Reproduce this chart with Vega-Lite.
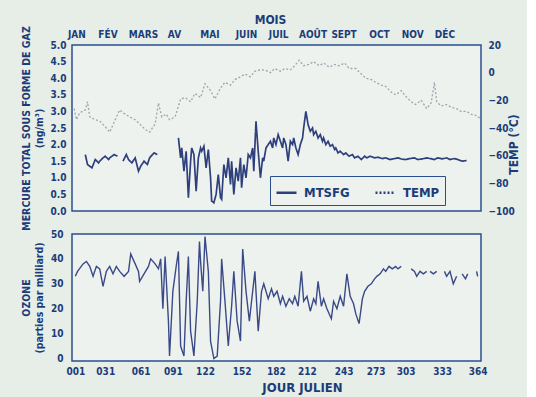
{
  "$schema": "https://vega.github.io/schema/vega-lite/v6.json",
  "background": "#e7eee8",
  "padding": {"left": 20, "top": 12, "right": 6, "bottom": 2},
  "bounds": "flush",
  "spacing": 23,
  "config": {
    "font": "Liberation Sans Narrow, DejaVu Sans Condensed, Roboto, sans-serif",
    "view": {"fill": "#eef2ef", "stroke": "#2a4f8f", "strokeWidth": 1.5},
    "axis": {"domain": false, "ticks": false, "grid": false, "labelColor": "#1b3c78", "titleColor": "#1b3c78", "labelFontWeight": "bold", "titleFontWeight": "bold", "labelFontSize": 10, "titleFontSize": 11, "labelOverlap": false, "labelFlush": false}
  },
  "datasets": {
    "hg": [
      {"day":10,"hg":1.7,"seg":1},{"day":12,"hg":1.4,"seg":1},{"day":16,"hg":1.3,"seg":1},{"day":19,"hg":1.55,"seg":1},{"day":22,"hg":1.45,"seg":1},{"day":23,"hg":1.5,"seg":1},{"day":26,"hg":1.6,"seg":1},{"day":28,"hg":1.65,"seg":1},{"day":31,"hg":1.55,"seg":1},{"day":32,"hg":1.6,"seg":1},{"day":36,"hg":1.7,"seg":1},{"day":39,"hg":1.65,"seg":1},
      {"day":44,"hg":1.5,"seg":2},{"day":47,"hg":1.7,"seg":2},{"day":49,"hg":1.55,"seg":2},{"day":52,"hg":1.45,"seg":2},{"day":55,"hg":1.6,"seg":2},{"day":58,"hg":1.2,"seg":2},{"day":60,"hg":1.35,"seg":2},{"day":63,"hg":1.5,"seg":2},{"day":66,"hg":1.4,"seg":2},{"day":68,"hg":1.6,"seg":2},{"day":72,"hg":1.75,"seg":2},{"day":75,"hg":1.7,"seg":2},
      {"day":94,"hg":2.2,"seg":3},{"day":96,"hg":1.6,"seg":3},{"day":97,"hg":1.9,"seg":3},{"day":99,"hg":1.2,"seg":3},{"day":101,"hg":1.8,"seg":3},{"day":103,"hg":0.4,"seg":3},{"day":105,"hg":1.5,"seg":3},{"day":106,"hg":1.9,"seg":3},{"day":108,"hg":1.7,"seg":3},{"day":110,"hg":0.6,"seg":3},{"day":112,"hg":1.6,"seg":3},{"day":114,"hg":1.9,"seg":3},{"day":115,"hg":1.8,"seg":3},{"day":117,"hg":1.95,"seg":3},{"day":119,"hg":1.3,"seg":3},{"day":121,"hg":1.85,"seg":3},{"day":123,"hg":1.0,"seg":3},{"day":124,"hg":0.3,"seg":3},{"day":126,"hg":0.25,"seg":3},{"day":128,"hg":0.5,"seg":3},{"day":130,"hg":1.1,"seg":3},{"day":132,"hg":0.4,"seg":3},{"day":133,"hg":0.35,"seg":3},{"day":135,"hg":1.4,"seg":3},{"day":137,"hg":1.0,"seg":3},{"day":139,"hg":1.6,"seg":3},{"day":141,"hg":0.8,"seg":3},{"day":142,"hg":1.5,"seg":3},{"day":144,"hg":0.5,"seg":3},{"day":146,"hg":1.3,"seg":3},{"day":148,"hg":0.9,"seg":3},{"day":150,"hg":1.6,"seg":3},{"day":151,"hg":0.7,"seg":3},{"day":153,"hg":1.4,"seg":3},{"day":155,"hg":1.0,"seg":3},{"day":157,"hg":1.7,"seg":3},{"day":159,"hg":1.6,"seg":3},{"day":161,"hg":1.9,"seg":3},{"day":162,"hg":1.2,"seg":3},{"day":164,"hg":2.7,"seg":3},{"day":166,"hg":1.8,"seg":3},{"day":168,"hg":1.0,"seg":3},{"day":170,"hg":1.6,"seg":3},{"day":171,"hg":1.5,"seg":3},{"day":173,"hg":1.9,"seg":3},{"day":175,"hg":2.0,"seg":3},{"day":177,"hg":2.1,"seg":3},{"day":179,"hg":1.9,"seg":3},{"day":180,"hg":2.2,"seg":3},{"day":182,"hg":2.0,"seg":3},{"day":184,"hg":2.3,"seg":3},{"day":186,"hg":2.1,"seg":3},{"day":188,"hg":1.9,"seg":3},{"day":189,"hg":2.2,"seg":3},{"day":191,"hg":2.0,"seg":3},{"day":193,"hg":1.5,"seg":3},{"day":195,"hg":2.1,"seg":3},{"day":197,"hg":2.0,"seg":3},{"day":198,"hg":2.2,"seg":3},{"day":200,"hg":1.9,"seg":3},{"day":202,"hg":1.7,"seg":3},{"day":204,"hg":2.0,"seg":3},{"day":206,"hg":2.2,"seg":3},{"day":207,"hg":2.5,"seg":3},{"day":209,"hg":3.0,"seg":3},{"day":211,"hg":2.6,"seg":3},{"day":213,"hg":2.4,"seg":3},{"day":215,"hg":2.5,"seg":3},{"day":216,"hg":2.3,"seg":3},{"day":218,"hg":2.4,"seg":3},{"day":220,"hg":2.2,"seg":3},{"day":222,"hg":2.3,"seg":3},{"day":224,"hg":2.1,"seg":3},{"day":225,"hg":2.2,"seg":3},{"day":227,"hg":2.0,"seg":3},{"day":229,"hg":2.1,"seg":3},{"day":231,"hg":1.95,"seg":3},{"day":233,"hg":2.0,"seg":3},{"day":235,"hg":1.85,"seg":3},{"day":236,"hg":1.9,"seg":3},{"day":238,"hg":1.75,"seg":3},{"day":240,"hg":1.8,"seg":3},{"day":243,"hg":1.7,"seg":3},{"day":245,"hg":1.75,"seg":3},{"day":248,"hg":1.65,"seg":3},{"day":251,"hg":1.7,"seg":3},{"day":253,"hg":1.6,"seg":3},{"day":256,"hg":1.65,"seg":3},{"day":259,"hg":1.55,"seg":3},{"day":262,"hg":1.65,"seg":3},{"day":264,"hg":1.6,"seg":3},{"day":267,"hg":1.65,"seg":3},{"day":271,"hg":1.6,"seg":3},{"day":274,"hg":1.62,"seg":3},{"day":278,"hg":1.58,"seg":3},{"day":281,"hg":1.6,"seg":3},{"day":285,"hg":1.55,"seg":3},{"day":289,"hg":1.58,"seg":3},{"day":292,"hg":1.6,"seg":3},{"day":296,"hg":1.56,"seg":3},{"day":299,"hg":1.55,"seg":3},{"day":303,"hg":1.58,"seg":3},{"day":307,"hg":1.6,"seg":3},{"day":310,"hg":1.55,"seg":3},{"day":314,"hg":1.57,"seg":3},{"day":318,"hg":1.6,"seg":3},{"day":321,"hg":1.58,"seg":3},{"day":325,"hg":1.55,"seg":3},{"day":328,"hg":1.6,"seg":3},{"day":332,"hg":1.57,"seg":3},{"day":336,"hg":1.6,"seg":3},{"day":339,"hg":1.55,"seg":3},{"day":343,"hg":1.58,"seg":3},{"day":346,"hg":1.55,"seg":3},{"day":350,"hg":1.5,"seg":3},{"day":354,"hg":1.52,"seg":3}
    ],
    "temp": [
      {"day":0,"temp":-26},{"day":2,"temp":-34},{"day":5,"temp":-29},{"day":10,"temp":-27},{"day":12,"temp":-21},{"day":14,"temp":-32},{"day":19,"temp":-34},{"day":23,"temp":-35},{"day":28,"temp":-39},{"day":32,"temp":-43},{"day":37,"temp":-34},{"day":41,"temp":-27},{"day":46,"temp":-30},{"day":50,"temp":-32},{"day":55,"temp":-34},{"day":59,"temp":-37},{"day":64,"temp":-41},{"day":68,"temp":-43},{"day":73,"temp":-37},{"day":76,"temp":-22},{"day":79,"temp":-32},{"day":83,"temp":-30},{"day":86,"temp":-34},{"day":91,"temp":-32},{"day":96,"temp":-19},{"day":100,"temp":-18},{"day":105,"temp":-21},{"day":109,"temp":-15},{"day":114,"temp":-18},{"day":118,"temp":-8},{"day":123,"temp":-13},{"day":127,"temp":-19},{"day":132,"temp":-11},{"day":136,"temp":-7},{"day":141,"temp":-9},{"day":145,"temp":-5},{"day":150,"temp":-3},{"day":154,"temp":-1},{"day":159,"temp":-3},{"day":163,"temp":1},{"day":168,"temp":2},{"day":172,"temp":2},{"day":177,"temp":0},{"day":181,"temp":3},{"day":186,"temp":1},{"day":190,"temp":3},{"day":195,"temp":2},{"day":199,"temp":5},{"day":203,"temp":9},{"day":207,"temp":5},{"day":212,"temp":6},{"day":216,"temp":8},{"day":221,"temp":5},{"day":225,"temp":7},{"day":230,"temp":4},{"day":235,"temp":6},{"day":239,"temp":5},{"day":244,"temp":7},{"day":248,"temp":3},{"day":254,"temp":3},{"day":259,"temp":-1},{"day":263,"temp":-4},{"day":268,"temp":-5},{"day":272,"temp":-7},{"day":277,"temp":-9},{"day":281,"temp":-10},{"day":286,"temp":-14},{"day":290,"temp":-16},{"day":295,"temp":-13},{"day":299,"temp":-17},{"day":304,"temp":-21},{"day":308,"temp":-23},{"day":313,"temp":-20},{"day":318,"temp":-26},{"day":322,"temp":-22},{"day":325,"temp":-7},{"day":327,"temp":-21},{"day":331,"temp":-24},{"day":336,"temp":-23},{"day":340,"temp":-25},{"day":345,"temp":-26},{"day":349,"temp":-28},{"day":354,"temp":-28},{"day":358,"temp":-30},{"day":363,"temp":-31},{"day":366,"temp":-33}
    ],
    "oz": [
      {"day":1,"oz":33,"seg":1},{"day":3,"oz":35,"seg":1},{"day":8,"oz":38,"seg":1},{"day":11,"oz":39,"seg":1},{"day":14,"oz":37,"seg":1},{"day":17,"oz":33,"seg":1},{"day":20,"oz":37,"seg":1},{"day":23,"oz":36,"seg":1},{"day":26,"oz":29,"seg":1},{"day":29,"oz":35,"seg":1},{"day":32,"oz":37,"seg":1},{"day":35,"oz":34,"seg":1},{"day":38,"oz":37,"seg":1},{"day":41,"oz":35,"seg":1},{"day":45,"oz":33,"seg":1},{"day":49,"oz":35,"seg":1},{"day":51,"oz":42,"seg":1},{"day":55,"oz":38,"seg":1},{"day":58,"oz":35,"seg":1},{"day":59,"oz":31,"seg":1},{"day":63,"oz":34,"seg":1},{"day":67,"oz":37,"seg":1},{"day":69,"oz":40,"seg":1},{"day":73,"oz":38,"seg":1},{"day":76,"oz":36,"seg":1},{"day":78,"oz":40,"seg":1},{"day":80,"oz":20,"seg":1},{"day":82,"oz":41,"seg":1},{"day":85,"oz":15,"seg":1},{"day":86,"oz":1,"seg":1},{"day":89,"oz":27,"seg":1},{"day":92,"oz":37,"seg":1},{"day":94,"oz":43,"seg":1},{"day":96,"oz":5,"seg":1},{"day":99,"oz":1,"seg":1},{"day":101,"oz":23,"seg":1},{"day":103,"oz":41,"seg":1},{"day":105,"oz":11,"seg":1},{"day":108,"oz":1,"seg":1},{"day":111,"oz":23,"seg":1},{"day":113,"oz":47,"seg":1},{"day":114,"oz":39,"seg":1},{"day":116,"oz":27,"seg":1},{"day":118,"oz":49,"seg":1},{"day":121,"oz":35,"seg":1},{"day":123,"oz":7,"seg":1},{"day":126,"oz":0,"seg":1},{"day":129,"oz":1,"seg":1},{"day":132,"oz":23,"seg":1},{"day":133,"oz":40,"seg":1},{"day":136,"oz":23,"seg":1},{"day":139,"oz":5,"seg":1},{"day":142,"oz":21,"seg":1},{"day":144,"oz":35,"seg":1},{"day":147,"oz":15,"seg":1},{"day":150,"oz":7,"seg":1},{"day":152,"oz":44,"seg":1},{"day":155,"oz":27,"seg":1},{"day":158,"oz":15,"seg":1},{"day":160,"oz":23,"seg":1},{"day":163,"oz":35,"seg":1},{"day":166,"oz":11,"seg":1},{"day":169,"oz":27,"seg":1},{"day":171,"oz":30,"seg":1},{"day":175,"oz":24,"seg":1},{"day":178,"oz":28,"seg":1},{"day":180,"oz":25,"seg":1},{"day":183,"oz":27,"seg":1},{"day":186,"oz":22,"seg":1},{"day":188,"oz":25,"seg":1},{"day":191,"oz":21,"seg":1},{"day":194,"oz":24,"seg":1},{"day":197,"oz":22,"seg":1},{"day":199,"oz":25,"seg":1},{"day":202,"oz":21,"seg":1},{"day":205,"oz":35,"seg":1},{"day":207,"oz":23,"seg":1},{"day":210,"oz":25,"seg":1},{"day":213,"oz":19,"seg":1},{"day":216,"oz":24,"seg":1},{"day":218,"oz":22,"seg":1},{"day":220,"oz":31,"seg":1},{"day":223,"oz":21,"seg":1},{"day":225,"oz":24,"seg":1},{"day":228,"oz":20,"seg":1},{"day":232,"oz":16,"seg":1},{"day":234,"oz":23,"seg":1},{"day":237,"oz":20,"seg":1},{"day":240,"oz":25,"seg":1},{"day":243,"oz":21,"seg":1},{"day":246,"oz":34,"seg":1},{"day":249,"oz":25,"seg":1},{"day":252,"oz":22,"seg":1},{"day":254,"oz":18,"seg":1},{"day":257,"oz":14,"seg":1},{"day":260,"oz":24,"seg":1},{"day":262,"oz":27,"seg":1},{"day":265,"oz":29,"seg":1},{"day":268,"oz":30,"seg":1},{"day":271,"oz":32,"seg":1},{"day":273,"oz":33,"seg":1},{"day":276,"oz":34,"seg":1},{"day":279,"oz":36,"seg":1},{"day":281,"oz":35,"seg":1},{"day":284,"oz":37,"seg":1},{"day":287,"oz":36,"seg":1},{"day":290,"oz":37,"seg":1},{"day":292,"oz":36,"seg":1},{"day":295,"oz":37,"seg":1},
      {"day":304,"oz":36,"seg":2},{"day":307,"oz":35,"seg":2},{"day":309,"oz":33,"seg":2},{"day":312,"oz":35,"seg":2},{"day":315,"oz":34,"seg":2},{"day":318,"oz":35,"seg":2},
      {"day":321,"oz":35,"seg":3},{"day":324,"oz":34,"seg":3},{"day":327,"oz":35,"seg":3},
      {"day":334,"oz":35,"seg":4},{"day":336,"oz":33,"seg":4},{"day":339,"oz":35,"seg":4},{"day":342,"oz":30,"seg":4},{"day":345,"oz":33,"seg":4},
      {"day":350,"oz":34,"seg":5},{"day":353,"oz":32,"seg":5},{"day":355,"oz":34,"seg":5},
      {"day":363,"oz":35,"seg":6},{"day":364,"oz":33,"seg":6}
    ]
  },
  "vconcat": [
    {
      "width": 409,
      "height": 166,
      "encoding": {
        "x": {"field": "day", "type": "quantitative", "scale": {"domain": [-2, 367], "nice": false, "zero": false},
          "axis": {"orient": "top", "values": [2,30,62,90,122,155,184,215,243,275,305,334], "labelOverlap": false, "labelFlush": false,
            "labelExpr": "['JAN','FÉV','MARS','AV','MAI','JUIN','JUIL','AOÛT','SEPT','OCT','NOV','DÉC'][indexof([2,30,62,90,122,155,184,215,243,275,305,334], datum.value)]",
            "labelPadding": 6, "title": "MOIS", "titleFontSize": 12, "titlePadding": 3, "titleX": 198}}
      },
      "layer": [
        {
          "data": {"name": "temp"},
          "mark": {"type": "line", "color": "#9ea3ae", "strokeWidth": 1.3},
          "encoding": {
            "y": {"field": "temp", "type": "quantitative", "scale": {"domain": [-100, 20], "nice": false, "zero": false},
              "axis": {"orient": "right", "values": [-100,-80,-60,-40,-20,0,20], "labelPadding": 7, "title": "TEMP (°C)", "titleFontSize": 12, "titleAngle": 270, "titlePadding": 6, "titleY": 99}},
            "strokeDash": {"datum": "TEMP", "type": "nominal",
              "scale": {"domain": ["MTSFG", "TEMP"], "range": [[1, 0], [2, 2]]},
              "legend": {"orient": "none", "legendX": 198, "legendY": 131, "direction": "horizontal", "title": null,
                "fillColor": "#eef2ef", "strokeColor": "#2a4f8f", "padding": 5, "symbolType": "stroke", "symbolSize": 400,
                "symbolStrokeWidth": 2.5, "symbolStrokeColor": "#1b3c78", "labelFontSize": 13, "labelFontWeight": "bold",
                "labelColor": "#1b3c78", "columnPadding": 20, "labelOffset": 6}}
          }
        },
        {
          "data": {"name": "hg"},
          "mark": {"type": "line", "color": "#2e3f7c", "strokeWidth": 1.7},
          "encoding": {
            "y": {"field": "hg", "type": "quantitative", "scale": {"domain": [0, 5], "nice": false},
              "axis": {"orient": "left", "values": [0,0.5,1,1.5,2,2.5,3,3.5,4,4.5,5], "format": ".1f", "labelPadding": 6,
                "title": ["MERCURE TOTAL SOUS FORME DE GAZ", "(ng/m³)"], "titleFontSize": 10.5, "titlePadding": 6}},
            "detail": {"field": "seg", "type": "nominal"},
            "strokeDash": {"datum": "MTSFG", "type": "nominal"}
          }
        }
      ],
      "resolve": {"scale": {"y": "independent"}}
    },
    {
      "width": 409,
      "height": 127,
      "data": {"name": "oz"},
      "mark": {"type": "line", "color": "#3a4a86", "strokeWidth": 1.4},
      "encoding": {
        "x": {"field": "day", "type": "quantitative", "scale": {"domain": [-2, 367], "nice": false, "zero": false},
          "axis": {"orient": "bottom", "values": [1,28,60,89,118,151,182,210,243,272,299,332,364], "labelOverlap": false,
            "labelExpr": "['001','031','061','091','122','152','182','212','243','273','303','333','364'][indexof([1,28,60,89,118,151,182,210,243,272,299,332,364], datum.value)]",
            "labelPadding": 5, "title": "JOUR JULIEN", "titleFontSize": 13, "titlePadding": 5, "titleX": 230}},
        "y": {"field": "oz", "type": "quantitative", "scale": {"domain": [-1, 50], "nice": false, "zero": false},
          "axis": {"values": [0,10,20,30,40,50], "labelPadding": 9, "title": ["OZONE", "(parties par milliard)"], "titleFontSize": 10.5, "titlePadding": 6}},
        "detail": {"field": "seg", "type": "nominal"}
      }
    }
  ]
}
